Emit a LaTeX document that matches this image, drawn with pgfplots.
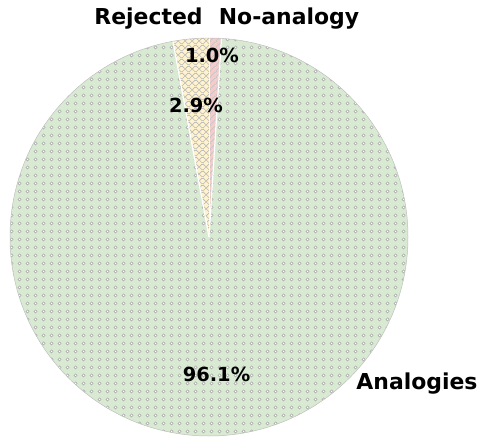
\documentclass[border=0pt]{standalone}
\usepackage{pgfplots}
\pgfplotsset{compat=1.18}
\usepackage{pgfplotstable}
\usetikzlibrary{patterns.meta}
\usepackage{fontspec}
\setmainfont{DejaVu Sans}

\definecolor{cAna}{RGB}{217,234,211}
\definecolor{cRej}{RGB}{255,242,204}
\definecolor{cNo}{RGB}{244,204,204}

\tikzdeclarepattern{name=rings, type=colored,
  bounding box={(0,0) and (8bp,8bp)}, tile size={(8bp,8bp)},
  code={\filldraw[fill=white, draw=gray!70, line width=0.6bp] (4bp,4bp) circle[radius=1.8bp];}}
\tikzdeclarepattern{name=xhatch, type=colored,
  bounding box={(0,0) and (7bp,7bp)}, tile size={(7bp,7bp)},
  code={\draw[gray!55, line width=0.7bp] (-1bp,-1bp) -- (8bp,8bp) (-1bp,8bp) -- (8bp,-1bp);}}
\tikzdeclarepattern{name=slash, type=colored,
  bounding box={(0,0) and (6bp,6bp)}, tile size={(6bp,6bp)},
  code={\draw[gray!45, line width=0.7bp] (-1bp,-1bp) -- (7bp,7bp) (-1bp,5bp) -- (1bp,7bp) (5bp,-1bp) -- (7bp,1bp);}}

% clockwise from 12 o'clock
\pgfplotstableread{
label pct fillc pat
No-analogy 1.0 cNo slash
Analogies 96.1 cAna rings
Rejected 2.9 cRej xhatch
}\piedata

\begin{document}
\begin{tikzpicture}
\begin{axis}[scale only axis, width=484bp, height=442bp,
  xmin=0, xmax=484, ymin=0, ymax=442, hide axis, clip=false]
\path (rel axis cs:0,0) rectangle (rel axis cs:1,1);
\pgfplotstablegetrowsof{\piedata}
\pgfmathtruncatemacro{\nrows}{\pgfplotsretval-1}
\def\curang{90}
\pgfplotsforeachungrouped \i in {0,...,\nrows}{%
  \pgfplotstablegetelem{\i}{pct}\of\piedata \let\p\pgfplotsretval
  \pgfplotstablegetelem{\i}{fillc}\of\piedata \let\fc\pgfplotsretval
  \pgfplotstablegetelem{\i}{pat}\of\piedata \let\pt\pgfplotsretval
  \pgfmathsetmacro{\endang}{\curang-3.6*\p}
  \edef\temp{\noexpand\fill[fill=\fc, postaction={pattern=\pt}]
    (axis cs:209,205) -- ++(\curang:199bp) arc[start angle=\curang, end angle=\endang, radius=199bp] -- cycle;
    \noexpand\draw[white, line width=1.2bp] (axis cs:209,205) -- ++(\curang:199bp);}
  \temp
  \global\let\curang\endang
}
\draw[gray!50, line width=0.5bp] (axis cs:209,205) circle[radius=199bp];
\begin{scope}[every node/.style={font=\fontsize{22}{26}\selectfont\bfseries, anchor=base, inner sep=0pt}]
\node at (axis cs:148.5,417) {Rejected};
\node at (axis cs:289,417) {No-analogy};
\node at (axis cs:417,53) {Analogies};
\end{scope}
\begin{scope}[every node/.style={font=\fontsize{19.5}{23}\selectfont\bfseries, anchor=base, inner sep=0pt}]
\node at (axis cs:212,380) {1.0\%};
\node at (axis cs:196,330) {2.9\%};
\node at (axis cs:216.5,61) {96.1\%};
\end{scope}
\end{axis}
\end{tikzpicture}
\end{document}
